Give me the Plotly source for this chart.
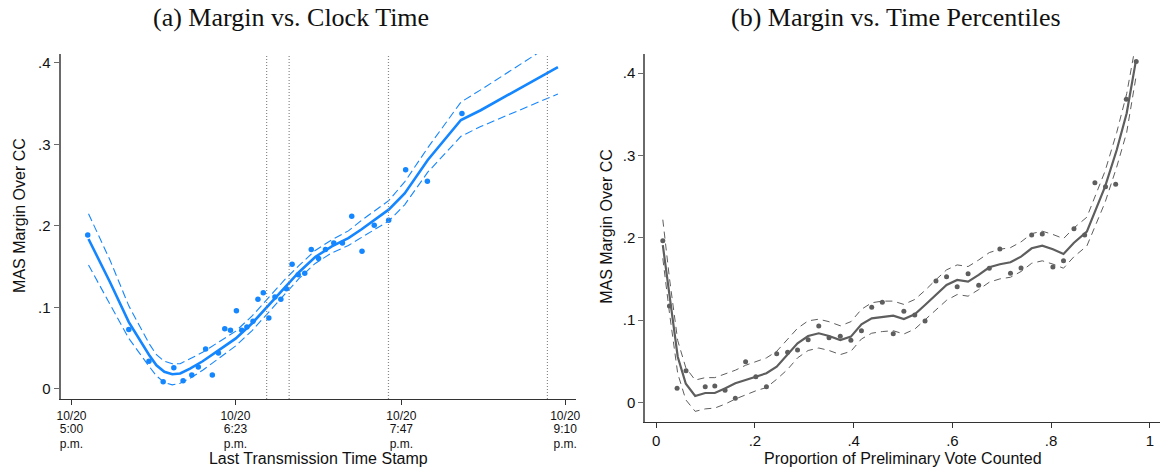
import plotly.graph_objects as go

# ---------------- Panel (a): margin vs. clock time ----------------
# x is minutes after 10/20 5:00 p.m.
clock_min = [8.2, 29.0, 39.2, 46.4, 51.8, 56.5, 60.9, 64.2, 67.9, 71.3, 74.4, 77.6,
             80.5, 83.5, 86.2, 88.8, 91.9, 94.4, 97.1, 99.9, 103.0, 106.0, 108.8,
             111.7, 114.8, 118.1, 121.4, 125.1, 128.6, 132.8, 137.2, 141.9, 147.1,
             153.3, 160.6, 169.2, 180.2, 197.7]
clock_margin = [0.189, 0.073, 0.034, 0.009, 0.026, 0.010, 0.017, 0.027, 0.049, 0.017,
                0.044, 0.074, 0.072, 0.096, 0.072, 0.076, 0.083, 0.110, 0.118, 0.087,
                0.113, 0.110, 0.123, 0.153, 0.140, 0.142, 0.171, 0.160, 0.171, 0.179,
                0.179, 0.212, 0.169, 0.201, 0.207, 0.269, 0.255, 0.338]

clock_fit_min = [8.6, 19.5, 29.0, 39.2, 43.0, 47.0, 51.0, 55.0, 60.0, 66.4, 74.8, 83.2,
                 91.6, 100.0, 108.3, 115.0, 123.4, 131.8, 140.2, 146.9, 160.6, 168.7,
                 180.4, 197.2, 207.2, 246.3]
clock_fit = [0.184, 0.131, 0.082, 0.042, 0.029, 0.021, 0.018, 0.019, 0.025, 0.034,
             0.048, 0.062, 0.081, 0.103, 0.126, 0.143, 0.162, 0.175, 0.185, 0.196,
             0.220, 0.240, 0.281, 0.330, 0.342, 0.395]
clock_fit_lo = [0.152, 0.104, 0.062, 0.028, 0.016, 0.008, 0.005, 0.007, 0.013, 0.023,
                0.038, 0.053, 0.072, 0.094, 0.117, 0.135, 0.154, 0.167, 0.176, 0.186,
                0.206, 0.226, 0.266, 0.310, 0.322, 0.362]
clock_fit_hi = [0.215, 0.158, 0.102, 0.056, 0.042, 0.034, 0.031, 0.031, 0.037, 0.045,
                0.058, 0.071, 0.090, 0.112, 0.135, 0.151, 0.170, 0.183, 0.194, 0.207,
                0.231, 0.254, 0.296, 0.352, 0.367, 0.428]

event_min = [98.8, 110.2, 160.5, 241.0]

# Clock tick labels, one list per text row
clock_tick_min = [0, 83, 167, 250]
clock_tick_date = ["10/20", "10/20", "10/20", "10/20"]
clock_tick_time = ["5:00", "6:23", "7:47", "9:10"]
clock_tick_ampm = ["p.m.", "p.m.", "p.m.", "p.m."]

# ---------------- Panel (b): margin vs. share of vote counted ----------------
share_counted = [0.0134, 0.0268, 0.0423, 0.0604, 0.0993, 0.1187, 0.1395, 0.1603,
                 0.1811, 0.2019, 0.2233, 0.2441, 0.2662, 0.2863, 0.3078, 0.3293,
                 0.3501, 0.3729, 0.3944, 0.4158, 0.4366, 0.4581, 0.4802, 0.5017,
                 0.5238, 0.5446, 0.5667, 0.5882, 0.6097, 0.6318, 0.6533, 0.6748,
                 0.6962, 0.7177, 0.7391, 0.7606, 0.7821, 0.8036, 0.8251, 0.8463,
                 0.8680, 0.8887, 0.9102, 0.9308, 0.9523, 0.9724]
share_margin = [0.1965, 0.117, 0.017, 0.0385, 0.019, 0.0198, 0.0146, 0.0049,
                0.0494, 0.0312, 0.019, 0.0591, 0.0608, 0.0636, 0.0761, 0.0928,
                0.0785, 0.0802, 0.0754, 0.087, 0.1155, 0.1216, 0.0834, 0.1106,
                0.1061, 0.0988, 0.1475, 0.1527, 0.1406, 0.1564, 0.1422, 0.1629,
                0.1864, 0.1568, 0.1633, 0.2034, 0.2046, 0.1645, 0.1722, 0.2111,
                0.2034, 0.267, 0.2621, 0.265, 0.3684, 0.4141]

share_fit_x = [0.0134, 0.027, 0.0436, 0.06, 0.0789, 0.0993, 0.1187, 0.1402, 0.1603,
               0.1811, 0.2019, 0.2233, 0.2441, 0.2662, 0.2863, 0.3078, 0.3293,
               0.3501, 0.3729, 0.3944, 0.4158, 0.4366, 0.4581, 0.4802, 0.5017,
               0.5238, 0.5446, 0.5667, 0.5882, 0.6097, 0.6318, 0.6533, 0.6748,
               0.6962, 0.7177, 0.7391, 0.7606, 0.7821, 0.8036, 0.8251, 0.8463,
               0.8724, 0.9093, 0.9329, 0.9531, 0.9718]
share_fit = [0.191, 0.128, 0.0554, 0.0226, 0.0077, 0.0113, 0.0113, 0.017, 0.0231,
             0.0272, 0.0312, 0.0353, 0.0433, 0.0575, 0.0717, 0.0806, 0.0839, 0.0806,
             0.0757, 0.0798, 0.0948, 0.1021, 0.1033, 0.1053, 0.1013, 0.107, 0.1183,
             0.1305, 0.1426, 0.1487, 0.1467, 0.1548, 0.1641, 0.1678, 0.1702, 0.177,
             0.1872, 0.1904, 0.186, 0.1803, 0.194, 0.2074, 0.2621, 0.3067, 0.3514,
             0.4153]
share_fit_lo = [0.175, 0.108, 0.035, 0.003, -0.011, -0.008, -0.007, -0.002, 0.004,
                0.009, 0.014, 0.018, 0.028, 0.040, 0.054, 0.063, 0.066, 0.063, 0.058,
                0.062, 0.077, 0.084, 0.086, 0.087, 0.083, 0.089, 0.100, 0.112, 0.124,
                0.131, 0.129, 0.137, 0.146, 0.150, 0.152, 0.159, 0.169, 0.172, 0.168,
                0.163, 0.177, 0.190, 0.243, 0.286, 0.328, 0.395]
share_fit_hi = [0.222, 0.150, 0.075, 0.042, 0.027, 0.030, 0.030, 0.035, 0.039,
                0.045, 0.049, 0.054, 0.062, 0.076, 0.090, 0.099, 0.101, 0.098, 0.093,
                0.098, 0.113, 0.121, 0.123, 0.123, 0.119, 0.125, 0.136, 0.149, 0.161,
                0.167, 0.165, 0.173, 0.182, 0.186, 0.188, 0.195, 0.205, 0.208, 0.204,
                0.199, 0.212, 0.225, 0.281, 0.328, 0.375, 0.437]

margin_ticks = [0, 0.1, 0.2, 0.3, 0.4]
margin_tick_text = ["0", ".1", ".2", ".3", ".4"]
share_ticks = [0, 0.2, 0.4, 0.6, 0.8, 1.0]
share_tick_text = ["0", ".2", ".4", ".6", ".8", "1"]

BLUE = "#1486FF"
GRAY = "#5E5E5E"
W, H = 1172, 467
CLOCK_RANGE = [-5.53, 255.5]

fig = go.Figure()

# Panel (a) traces
fig.add_trace(go.Scatter(x=clock_min, y=clock_margin, mode="markers",
                         marker=dict(color=BLUE, size=5.5), xaxis="x", yaxis="y"))
fig.add_trace(go.Scatter(x=clock_fit_min, y=clock_fit, mode="lines",
                         line=dict(color=BLUE, width=2.6), xaxis="x", yaxis="y"))
for band in (clock_fit_lo, clock_fit_hi):
    fig.add_trace(go.Scatter(x=clock_fit_min, y=band, mode="lines",
                             line=dict(color=BLUE, width=1.1, dash="8px,4px"),
                             xaxis="x", yaxis="y"))
# empty traces that register the extra tick-label rows of the clock axis
for ax in ("x3", "x4"):
    fig.add_trace(go.Scatter(x=clock_tick_min, y=[None] * len(clock_tick_min),
                             mode="markers", xaxis=ax, yaxis="y",
                             hoverinfo="skip"))

# Panel (b) traces
fig.add_trace(go.Scatter(x=share_counted, y=share_margin, mode="markers",
                         marker=dict(color=GRAY, size=5), xaxis="x2", yaxis="y2"))
fig.add_trace(go.Scatter(x=share_fit_x, y=share_fit, mode="lines",
                         line=dict(color=GRAY, width=2.2), xaxis="x2", yaxis="y2"))
for band in (share_fit_lo, share_fit_hi):
    fig.add_trace(go.Scatter(x=share_fit_x, y=band, mode="lines",
                             line=dict(color=GRAY, width=1.0, dash="7px,5px"),
                             xaxis="x2", yaxis="y2"))

# Event markers in panel (a)
for t in event_min:
    fig.add_shape(type="line", xref="x", yref="y domain", x0=t, x1=t, y0=0, y1=1,
                  line=dict(color="#888888", width=1.2, dash="1px,2px"))

SANS = "Liberation Sans, Arial, sans-serif"
SERIF = "Liberation Serif, Times New Roman, serif"
tick_font = dict(family=SANS, size=15, color="#111111")
clock_font = dict(family=SANS, size=12, color="#111111")
title_font = dict(family=SANS, size=16, color="#111111")

axis_common = dict(showgrid=False, zeroline=False, showline=True, ticks="outside",
                   ticklen=5, tickwidth=1.2, fixedrange=True)
label_row = dict(overlaying="x", anchor="free", side="bottom", range=CLOCK_RANGE,
                 tickvals=clock_tick_min, showgrid=False, zeroline=False,
                 showline=False, ticks="", tickfont=clock_font, fixedrange=True)

fig.update_layout(
    width=W, height=H,
    margin=dict(l=0, r=0, t=0, b=0),
    paper_bgcolor="white", plot_bgcolor="white",
    showlegend=False,
    xaxis=dict(domain=[57 / W, 576 / W], anchor="y", range=CLOCK_RANGE,
               tickvals=clock_tick_min, ticktext=clock_tick_date,
               tickfont=clock_font,
               linecolor="#333333", linewidth=1.2, tickcolor="#333333",
               **axis_common),
    xaxis3=dict(position=1 - 420 / H, ticktext=clock_tick_time, **label_row),
    xaxis4=dict(position=1 - 434.5 / H, ticktext=clock_tick_ampm,
                title=dict(text="Last Transmission Time Stamp", font=title_font,
                           standoff=0),
                **label_row),
    yaxis=dict(domain=[1 - 399 / H, 1 - 54 / H], anchor="x", range=[-0.0123, 0.411],
               tickvals=margin_ticks, ticktext=margin_tick_text, tickfont=tick_font,
               linecolor="#6A6A6A", linewidth=2, tickcolor="#6A6A6A",
               **axis_common),
    xaxis2=dict(domain=[645.7 / W, 1164.3 / W], anchor="y2", range=[-0.0221, 1.0213],
                tickvals=share_ticks, ticktext=share_tick_text, tickfont=tick_font,
                linecolor="#333333", linewidth=1.2, tickcolor="#333333",
                title=dict(text="Proportion of Preliminary Vote Counted",
                           font=title_font, standoff=4),
                **axis_common),
    yaxis2=dict(domain=[1 - 422.3 / H, 1 - 54.3 / H], anchor="x2",
                range=[-0.0243, 0.423],
                tickvals=margin_ticks, ticktext=margin_tick_text, tickfont=tick_font,
                linecolor="#6A6A6A", linewidth=2, tickcolor="#6A6A6A",
                **axis_common),
    annotations=[
        dict(text="(a) Margin vs. Clock Time", x=289 / W, y=1 - 17 / H,
             xref="paper", yref="paper", showarrow=False, xanchor="center",
             yanchor="middle", font=dict(family=SERIF, size=26, color="#111111")),
        dict(text="(b) Margin vs. Time Percentiles", x=898 / W, y=1 - 17 / H,
             xref="paper", yref="paper", showarrow=False, xanchor="center",
             yanchor="middle", font=dict(family=SERIF, size=26, color="#111111")),
        dict(text="MAS Margin Over CC", x=16 / W, y=1 - 215 / H, textangle=-90,
             xref="paper", yref="paper", showarrow=False, xanchor="center",
             yanchor="middle", font=title_font),
        dict(text="MAS Margin Over CC", x=606 / W, y=1 - 226 / H, textangle=-90,
             xref="paper", yref="paper", showarrow=False, xanchor="center",
             yanchor="middle", font=title_font),
    ],
)

fig.write_html("out.html")
